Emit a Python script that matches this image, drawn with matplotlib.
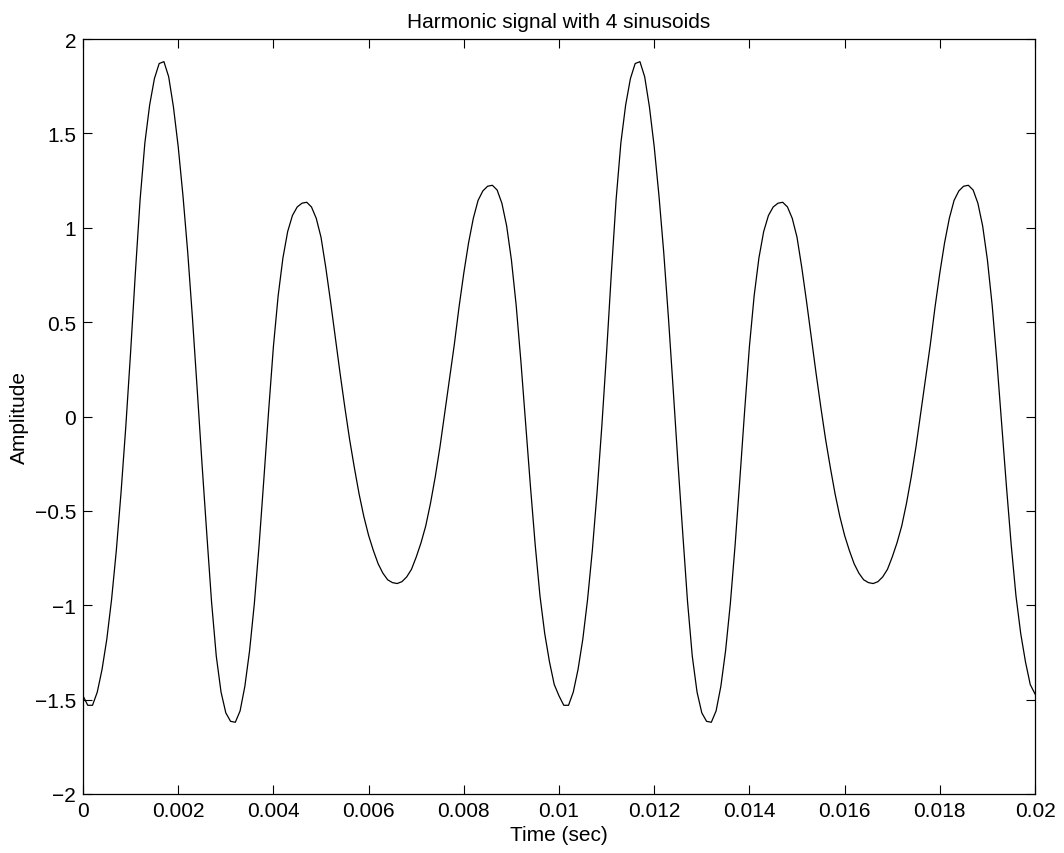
import numpy as np
import matplotlib
matplotlib.use("Agg")
import matplotlib.pyplot as plt

# Values, one sample every 0.0001 s
amplitude_period1 = [
    -1.48, -1.53, -1.53, -1.46, -1.34, -1.18, -0.97, -0.71, -0.40, -0.05,
    0.34, 0.76, 1.15, 1.45, 1.65, 1.79, 1.87, 1.88, 1.80, 1.64,
    1.43, 1.17, 0.87, 0.52, 0.14, -0.25, -0.62, -0.98, -1.27, -1.46,
    -1.57, -1.615, -1.62, -1.56, -1.43, -1.24, -0.99, -0.68, -0.33, 0.03,
    0.37, 0.64, 0.84, 0.98, 1.065, 1.11, 1.13, 1.135, 1.11, 1.05,
    0.95, 0.79, 0.61, 0.42, 0.23, 0.05, -0.12, -0.27, -0.41, -0.53,
    -0.63, -0.71, -0.78, -0.83, -0.865, -0.88, -0.885, -0.875, -0.85, -0.81,
    -0.745, -0.67, -0.58, -0.46, -0.32, -0.16, 0.02, 0.20, 0.38, 0.58,
    0.76, 0.92, 1.05, 1.145, 1.195, 1.22, 1.225, 1.20, 1.13, 1.01,
    0.83, 0.59, 0.29, -0.04, -0.37, -0.68, -0.95, -1.15, -1.30, -1.42,
]
amplitude_period2 = [
    -1.48, -1.53, -1.53, -1.46, -1.34, -1.18, -0.97, -0.71, -0.40, -0.05,
    0.34, 0.76, 1.15, 1.45, 1.65, 1.79, 1.87, 1.88, 1.80, 1.64,
    1.43, 1.17, 0.87, 0.52, 0.14, -0.25, -0.62, -0.98, -1.27, -1.46,
    -1.57, -1.615, -1.62, -1.56, -1.43, -1.24, -0.99, -0.68, -0.33, 0.03,
    0.37, 0.64, 0.84, 0.98, 1.065, 1.11, 1.13, 1.135, 1.11, 1.05,
    0.95, 0.79, 0.61, 0.42, 0.23, 0.05, -0.12, -0.27, -0.41, -0.53,
    -0.63, -0.71, -0.78, -0.83, -0.865, -0.88, -0.885, -0.875, -0.85, -0.81,
    -0.745, -0.67, -0.58, -0.46, -0.32, -0.16, 0.02, 0.20, 0.38, 0.58,
    0.76, 0.92, 1.05, 1.145, 1.195, 1.22, 1.225, 1.20, 1.13, 1.01,
    0.83, 0.59, 0.29, -0.04, -0.37, -0.68, -0.95, -1.15, -1.30, -1.42,
]
amplitude_end = [-1.47]

amplitude = np.array(amplitude_period1 + amplitude_period2 + amplitude_end)
time_sec = np.linspace(0.0, 0.02, len(amplitude))

x_ticks = [0, 0.002, 0.004, 0.006, 0.008, 0.01, 0.012, 0.014, 0.016, 0.018, 0.02]
x_tick_labels = ["0", "0.002", "0.004", "0.006", "0.008", "0.01", "0.012",
                 "0.014", "0.016", "0.018", "0.02"]
y_ticks = [-2, -1.5, -1, -0.5, 0, 0.5, 1, 1.5, 2]
y_tick_labels = ["\u22122", "\u22121.5", "\u22121", "\u22120.5", "0", "0.5", "1", "1.5", "2"]

plt.rcParams["font.family"] = ["Liberation Sans", "DejaVu Sans"]
FS = 15

fig = plt.figure(figsize=(10.64, 8.54), dpi=100)
W, H = 1064, 854
left, right, top, bottom = 83, 1035, 40, 795
ax = fig.add_axes([left / W, (H - bottom) / H, (right - left) / W, (bottom - top) / H])

ax.plot(time_sec, amplitude, color="black", linewidth=0.9)
ax.set_xlim(0, 0.02)
ax.set_ylim(-2, 2)
ax.set_xticks(x_ticks)
ax.set_xticklabels(x_tick_labels)
ax.set_yticks(y_ticks)
ax.set_yticklabels(y_tick_labels)
ax.tick_params(direction="in", length=6.5, width=0.8, top=True, right=True,
               labelsize=FS, pad=5, color="black")
for s in ax.spines.values():
    s.set_linewidth(0.9)
    s.set_color("black")

ax.set_title("Harmonic signal with 4 sinusoids", fontsize=FS, pad=9)
ax.set_xlabel("Time (sec)", fontsize=FS, labelpad=4)
ax.set_ylabel("Amplitude", fontsize=FS, labelpad=4)

fig.savefig("out.png", dpi=100, facecolor="white")
